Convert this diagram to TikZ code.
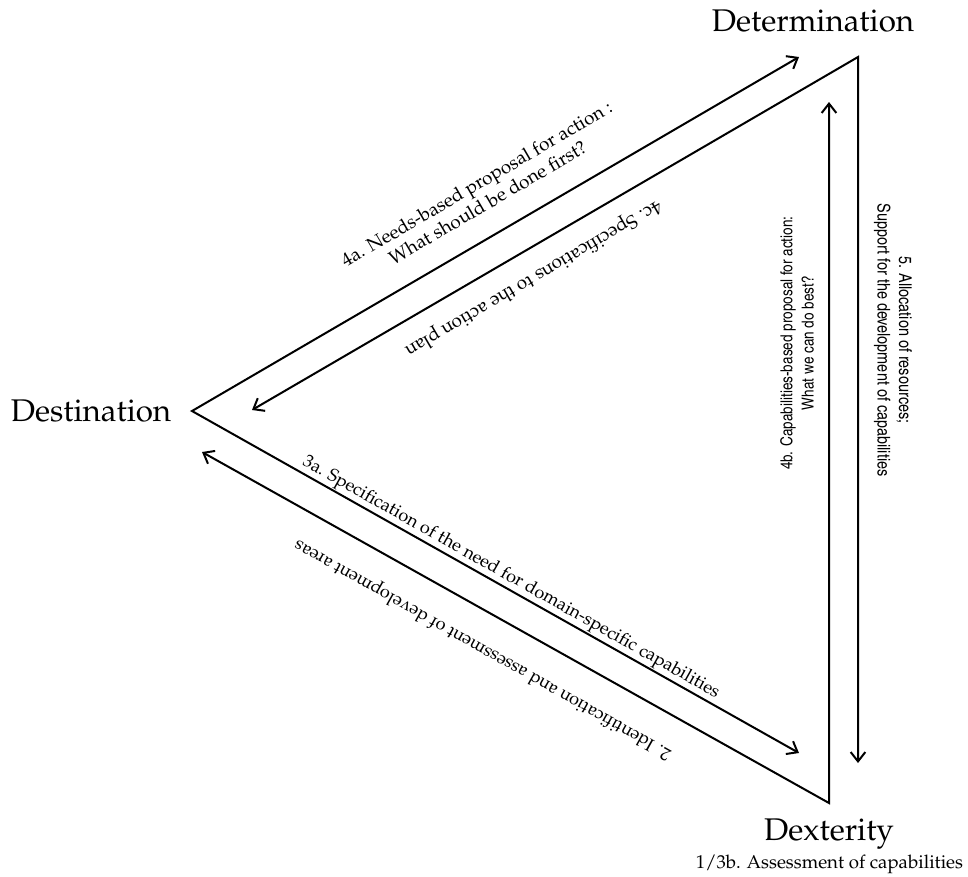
\documentclass[tikz,border=0pt]{standalone}
\usepackage[T1]{fontenc}
\renewcommand{\rmdefault}{ppl}
\usetikzlibrary{arrows.meta}
\newcommand{\narrowsf}{\fontfamily{phv}\fontseries{mc}\selectfont}

\begin{document}
\begin{tikzpicture}[x=0.75pt,y=-0.75pt,
  flow/.style={line width=1.5pt,
    {Straight Barb[length=7pt,width=11pt]}-{Straight Barb[length=7pt,width=11pt]}},
  corner/.style={font=\fontsize{23.5}{26}\selectfont, inner sep=0pt},
  lab/.style={font=\fontsize{13.5}{16}\selectfont, align=center, inner sep=0pt},
  uplab/.style={font=\fontsize{14.2}{16.5}\selectfont, align=center, inner sep=0pt},
  vlab/.style={align=center, inner sep=0pt}]
\useasboundingbox (0,0) rectangle (968,876);

% corners of the triangle
\coordinate (T) at (858,57);
\coordinate (L) at (192,411);
\coordinate (B) at (829,803);
% arrow ends
\coordinate (e4a) at (799,57);
\coordinate (e4c) at (252,410);
\coordinate (e5) at (858,763);
\coordinate (e4b) at (829,102);
\coordinate (e3a) at (799,753);
\coordinate (e2) at (202,452);

% each corner sends out two arrows
\draw[flow] (e4c) -- (T) -- (e5);
\draw[flow] (e4a) -- (L) -- (e3a);
\draw[flow] (e2) -- (B) -- (e4b);

% corner names
\node[corner, anchor=base] (det) at (813,31) {Determination};
\node[corner, anchor=base] (dest) at (91,421) {Destination};
\node[corner, anchor=base] (dex) at (829,840) {Dexterity};
\node[font=\fontsize{14}{16}\selectfont, anchor=base, inner sep=0pt] (dexsub) at (829.5,868) {1/3b. Assessment of capabilities};

% arrow labels
\node[uplab, rotate=30.26] (l4a) at (482,193) {4a. Needs-based proposal for action :\\What should be done first?};
\node[uplab, rotate=210.26] (l4c) at (533,278) {4c. Specifications to the action plan};
\node[vlab, font=\narrowsf\fontsize{12.4}{16}\selectfont, rotate=90] (l4b) at (797,343) {4b. Capabilities-based proposal for action:\\What we can do best?};
\node[vlab, font=\narrowsf\fontsize{13.2}{16}\selectfont, rotate=-90] (l5) at (893,340) {5. Allocation of resources;\\Support for the development of capabilities};
\node[lab, rotate=-29.4] (l3a) at (511,578) {3a. Specification of the need for domain-specific capabilities};
\node[lab, rotate=150.6] (l2) at (483,649) {2. Identification and assessment of development areas};
\end{tikzpicture}
\end{document}
